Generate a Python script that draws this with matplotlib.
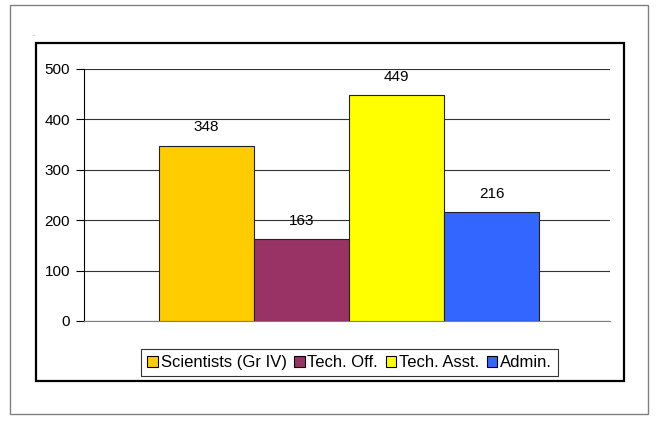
import matplotlib
matplotlib.use("Agg")
import matplotlib.pyplot as plt
from matplotlib.patches import Rectangle, Patch

plt.rcParams['font.family'] = ['Liberation Sans', 'DejaVu Sans']

categories = ["Scientists (Gr IV)", "Tech. Off.", "Tech. Asst.", "Admin."]
values = [348, 163, 449, 216]
colors = ["#FFCC00", "#993366", "#FFFF00", "#3366FF"]
yticks = [0, 100, 200, 300, 400, 500]

W, H = 656, 421
fig = plt.figure(figsize=(W / 100, H / 100), dpi=100)

def fx(px):
    return px / W

def fy(py):
    return 1 - py / H

# outer frame and chart frame
fig.patches.append(Rectangle((fx(10), fy(414)), fx(638), 409 / H, transform=fig.transFigure,
                             fill=False, edgecolor="#808080", linewidth=1.0))
fig.patches.append(Rectangle((fx(36), fy(381)), fx(588), 338 / H, transform=fig.transFigure,
                             fill=False, edgecolor="black", linewidth=1.6))
fig.text(fx(33), fy(35), ".", fontsize=5, color="#555555", ha="center", va="center")

ax = fig.add_axes([fx(84), fy(321), fx(610 - 84), (321 - 69) / H])
ax.set_facecolor("none")

bar_px = 95.0
x_left = -0.5 - (159 - 84) / bar_px
x_right = 3.5 + (610 - 539) / bar_px
xs = list(range(len(values)))
ax.bar(xs, values, width=1.0, color=colors, edgecolor="#222222", linewidth=0.8, zorder=3)
for x, v in zip(xs, values):
    ax.annotate(str(v), (x, v), xytext=(0, 8), textcoords="offset points",
                ha="center", va="bottom", fontsize=11, zorder=4)

ax.set_xlim(x_left, x_right)
ax.set_ylim(0, 500)
ax.set_yticks(yticks)
ax.set_yticklabels([str(t) for t in yticks], fontsize=11)
ax.set_xticks([])
ax.grid(axis="y", color="#333333", linewidth=0.8, zorder=0)
for s in ["top", "right"]:
    ax.spines[s].set_visible(False)
ax.spines["left"].set_linewidth(0.8)
ax.spines["bottom"].set_linewidth(0.8)
ax.spines["bottom"].set_color("#808080")
ax.tick_params(axis="y", length=6, width=0.8, pad=4)

handles = [Patch(facecolor=c, edgecolor="black", linewidth=0.8) for c in colors]
leg = fig.legend(handles, categories, loc="center", bbox_to_anchor=(fx(349.5), fy(362.5)),
                 ncol=4, frameon=True, fancybox=False, fontsize=12,
                 handlelength=0.65, handleheight=0.65, handletextpad=0.15,
                 columnspacing=0.45, borderpad=0.35, borderaxespad=0)
leg.get_frame().set_edgecolor("black")
leg.get_frame().set_linewidth(0.8)

fig.savefig("out.png", dpi=100)
